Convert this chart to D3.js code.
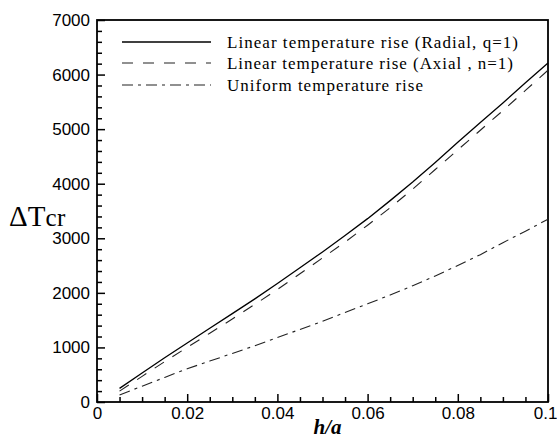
<!DOCTYPE html>
<html>
<head>
<meta charset="utf-8">
<script src="https://cdn.jsdelivr.net/npm/d3@7"></script>
<style>
  body { margin: 0; background: #fff; }
  .tick text { font-family: "Liberation Sans", Arial, sans-serif; font-size: 17px; fill: #000; }
  .legend text { font-family: "Liberation Serif", "Times New Roman", serif; font-size: 17px; fill: #000; }
  .title { font-family: "Liberation Serif", "Times New Roman", serif; fill: #000; }
</style>
</head>
<body>
<script>
// h/a values
var hRatio = [0.005, 0.01, 0.015, 0.02, 0.025, 0.03, 0.035, 0.04, 0.045, 0.05,
              0.055, 0.06, 0.065, 0.07, 0.075, 0.08, 0.085, 0.09, 0.095, 0.1];
// Linear temperature rise (Radial, q=1)
var radial = [250, 530, 810, 1080, 1350, 1620, 1890, 2170, 2460, 2750,
              3050, 3360, 3690, 4030, 4390, 4760, 5120, 5480, 5850, 6210];
// Linear temperature rise (Axial, n=1)
var axial = [200, 470, 740, 1000, 1260, 1520, 1790, 2060, 2350, 2640,
             2930, 3240, 3560, 3900, 4260, 4620, 4980, 5340, 5710, 6080];
// Uniform temperature rise
var uniform = [130, 290, 450, 610, 750, 890, 1030, 1180, 1330, 1480,
               1640, 1800, 1960, 2130, 2310, 2500, 2700, 2920, 3130, 3350];

var legendLabels = ["Linear temperature rise (Radial, q=1)",
                    "Linear temperature rise (Axial , n=1)",
                    "Uniform temperature rise"];
var xTicks = [0, 0.02, 0.04, 0.06, 0.08, 0.1];
var xTickLabels = ["0", "0.02", "0.04", "0.06", "0.08", "0.1"];
var yTicks = [0, 1000, 2000, 3000, 4000, 5000, 6000, 7000];

var svgWidth = 557;
var svgHeight = 443;
var margin = { top: 20, right: 9, bottom: 41, left: 97 };
var width = svgWidth - margin.left - margin.right;
var height = svgHeight - margin.top - margin.bottom;

var svg = d3.select("body").append("svg")
  .attr("width", svgWidth)
  .attr("height", svgHeight);

var chartGroup = svg.append("g")
  .attr("transform", `translate(${margin.left}, ${margin.top})`);

var xScale = d3.scaleLinear().domain([0, 0.1]).range([0, width]);
var yScale = d3.scaleLinear().domain([0, 7000]).range([height, 0]);

// minor ticks
var xMinor = d3.range(0, 0.1001, 0.005).filter(v => Math.abs(v / 0.02 - Math.round(v / 0.02)) > 1e-6);
var yMinor = d3.range(0, 7001, 200).filter(v => v % 1000 !== 0);

chartGroup.append("g")
  .attr("transform", `translate(0, ${height})`)
  .call(d3.axisBottom(xScale).tickValues(xMinor).tickSize(-5).tickFormat(""))
  .call(g => g.select(".domain").remove());
chartGroup.append("g")
  .call(d3.axisLeft(yScale).tickValues(yMinor).tickSize(-5).tickFormat(""))
  .call(g => g.select(".domain").remove());

// major ticks
chartGroup.append("g")
  .attr("class", "x-axis")
  .attr("transform", `translate(0, ${height})`)
  .call(d3.axisBottom(xScale).tickValues(xTicks).tickSize(-8).tickPadding(5)
    .tickFormat((d, i) => xTickLabels[i]))
  .call(g => g.select(".domain").remove());

// keep the last label inside the page
chartGroup.selectAll(".x-axis .tick text")
  .filter(d => d === 0.1)
  .attr("text-anchor", "end")
  .attr("dx", 9);

chartGroup.append("g")
  .attr("class", "y-axis")
  .call(d3.axisLeft(yScale).tickValues(yTicks).tickSize(-8).tickPadding(7)
    .tickFormat(d3.format("d")))
  .call(g => g.select(".domain").remove());

chartGroup.selectAll(".tick line").attr("stroke", "#000").attr("stroke-width", 1.5);

// frame
chartGroup.append("rect")
  .attr("width", width)
  .attr("height", height)
  .attr("fill", "none")
  .attr("stroke", "#000")
  .attr("stroke-width", 1.8);

// curves
var series = [
  { values: radial, dash: null, width: 1.3, color: "#000" },
  { values: axial, dash: "11,10", width: 1.1, color: "#222" },
  { values: uniform, dash: "11,5,3,5", width: 1.1, color: "#222" }
];

var line = d3.line()
  .x((d, i) => xScale(hRatio[i]))
  .y(d => yScale(d));

series.forEach(function(s) {
  chartGroup.append("path")
    .datum(s.values)
    .attr("d", line)
    .attr("fill", "none")
    .attr("stroke", s.color)
    .attr("stroke-width", s.width)
    .attr("stroke-dasharray", s.dash);
});

// legend
var legend = svg.append("g").attr("class", "legend");
var legendY = [42, 63, 85];
var legendLen = [291, 286, 196];
series.forEach(function(s, i) {
  legend.append("line")
    .attr("x1", 122).attr("x2", 211)
    .attr("y1", legendY[i]).attr("y2", legendY[i])
    .attr("stroke", s.color)
    .attr("stroke-width", s.width)
    .attr("stroke-dasharray", s.dash);
  legend.append("text")
    .attr("x", 227)
    .attr("y", legendY[i] + 6)
    .attr("textLength", legendLen[i])
    .text(legendLabels[i]);
});

// axis titles
var yTitle = svg.append("text")
  .attr("class", "title")
  .attr("x", 9)
  .attr("y", 226);
yTitle.append("tspan").style("font-size", "29px").text("ΔT");
yTitle.append("tspan").style("font-size", "25px").attr("textLength", 20).text("cr");

svg.append("text")
  .attr("class", "title")
  .attr("x", margin.left + width / 2 + 5)
  .attr("y", 434)
  .attr("text-anchor", "middle")
  .style("font-size", "21px")
  .style("font-weight", "bold")
  .style("font-style", "italic")
  .text("h/a");
</script>
</body>
</html>
